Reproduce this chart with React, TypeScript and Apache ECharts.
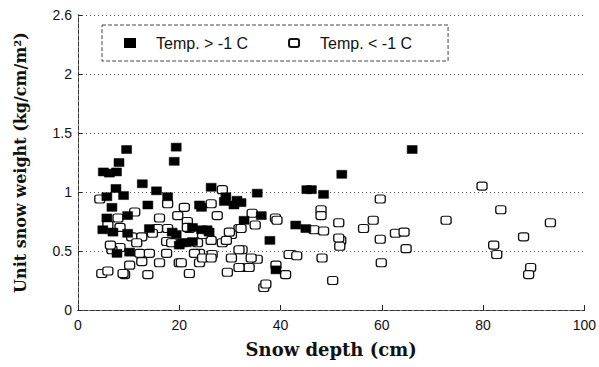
import React, { useEffect, useRef } from "react";
import * as echarts from "echarts";

const warmName = "Temp. > -1 C";
const coldName = "Temp. < -1 C";
const xTicks = [0, 20, 40, 60, 80, 100];
const yTickLabels: Record<string, string> = { "0": "0", "0.5": "0.5", "1": "1", "1.5": "1.5", "2": "2", "2.5": "2.6" };

// Temp. > -1 C : [snow depth (cm), unit snow weight]
const warmPoints: number[][] = [
  [9.6, 1.36], [8.1, 1.25], [5.0, 1.17], [6.2, 1.16], [7.6, 1.17], [19.4, 1.38], [19.0, 1.26],
  [12.7, 1.07], [7.5, 1.03], [9.0, 0.97], [15.5, 1.01], [5.7, 0.96], [17.7, 0.96], [26.3, 1.04],
  [29.2, 0.96], [31.4, 0.93], [35.4, 0.99], [45.2, 1.02], [46.1, 1.02], [48.5, 0.98], [52.1, 1.15],
  [66.0, 1.36], [6.7, 0.87], [9.8, 0.8], [13.8, 0.89], [24.4, 0.87], [28.9, 0.92], [32.2, 0.91],
  [5.7, 0.78], [32.8, 0.76], [36.2, 0.8], [4.9, 0.68], [6.9, 0.66], [9.8, 0.65], [14.1, 0.69],
  [19.4, 0.64], [22.6, 0.7], [25.9, 0.66], [20.6, 0.57], [22.6, 0.58], [37.9, 0.59], [43.0, 0.72],
  [45.0, 0.69], [7.7, 0.48], [10.2, 0.49], [39.1, 0.34], [18.6, 0.66], [24.4, 0.68], [25.5, 0.68],
  [21.4, 0.57], [20.0, 0.55], [24.0, 0.89], [30.8, 0.89]
];

// Temp. < -1 C
const coldPoints: number[][] = [
  [4.3, 0.94], [17.7, 0.9], [21.0, 0.87], [19.7, 0.8], [28.5, 1.02], [26.3, 0.9], [27.5, 0.8],
  [11.2, 0.83], [7.9, 0.78], [16.1, 0.78], [15.7, 0.69], [17.7, 0.69], [21.6, 0.75], [22.0, 0.69],
  [34.4, 0.82], [35.0, 0.72], [39.0, 0.78], [31.8, 0.69], [30.3, 0.64], [26.3, 0.59], [28.5, 0.57],
  [23.6, 0.57], [5.9, 0.72], [10.6, 0.62], [12.6, 0.62], [14.7, 0.65], [17.5, 0.58], [8.3, 0.53],
  [6.7, 0.51], [12.2, 0.48], [14.1, 0.48], [17.5, 0.48], [24.0, 0.48], [26.5, 0.47], [32.4, 0.51],
  [30.3, 0.44], [35.4, 0.43], [42.2, 0.47], [12.6, 0.41], [16.1, 0.4], [20.0, 0.4], [10.2, 0.38],
  [4.7, 0.31], [5.9, 0.33], [9.2, 0.3], [13.8, 0.3], [22.0, 0.31], [29.5, 0.32], [32.2, 0.36],
  [33.8, 0.36], [36.7, 0.19], [41.0, 0.3], [24.0, 0.4], [11.6, 0.57], [8.3, 0.7], [24.6, 0.64],
  [79.8, 1.05], [59.7, 0.94], [83.5, 0.85], [58.3, 0.76], [56.4, 0.69], [72.7, 0.76], [93.3, 0.74],
  [62.7, 0.65], [64.4, 0.66], [59.7, 0.6], [88.0, 0.62], [64.8, 0.52], [82.1, 0.55], [82.7, 0.47],
  [59.9, 0.4], [89.4, 0.36], [89.0, 0.3], [51.5, 0.74], [51.9, 0.59], [48.0, 0.85], [48.0, 0.8],
  [39.3, 0.76], [46.6, 0.68], [48.5, 0.67], [51.5, 0.61], [51.7, 0.54], [41.7, 0.47], [43.2, 0.46],
  [48.2, 0.44], [39.1, 0.38], [50.3, 0.25], [37.1, 0.22], [21.6, 0.7], [29.3, 0.59], [31.8, 0.51],
  [34.2, 0.44], [20.4, 0.4], [31.8, 0.36], [23.0, 0.48], [24.6, 0.44], [26.3, 0.44], [18.5, 0.57],
  [29.9, 0.66], [32.2, 0.69], [8.9, 0.31], [6.4, 0.55]
];

export default function App() {
  const ref = useRef<HTMLDivElement>(null);
  useEffect(() => {
    if (!ref.current) return;
    const chart = echarts.init(ref.current, null, { renderer: "svg" });
    const axisFont = { fontFamily: "Liberation Sans", fontSize: 14, color: "#111" };
    const nameFont = { fontFamily: "DejaVu Serif", fontWeight: "bold" as const, color: "#111" };
    chart.setOption({
      animation: false,
      backgroundColor: "#fff",
      grid: { left: 78, right: 12, top: 15, bottom: 57, containLabel: false },
      legend: {
        left: 102,
        top: 25,
        padding: [10, 36, 10, 22],
        itemWidth: 10,
        itemHeight: 8,
        itemGap: 40,
        borderColor: "#444",
        borderWidth: 1,
        borderType: "dashed",
        textStyle: { fontFamily: "Liberation Sans", fontSize: 16, color: "#111", padding: [0, 0, 0, 16] },
        data: [
          { name: warmName, icon: "rect" },
          { name: coldName, icon: "roundRect" }
        ]
      },
      xAxis: [
        {
          type: "value",
          min: 0,
          max: 100,
          interval: 20,
          name: "Snow depth (cm)",
          nameLocation: "middle",
          nameGap: 30,
          nameTextStyle: { ...nameFont, fontSize: 18 },
          axisLine: { show: true, onZero: false, lineStyle: { color: "#222", type: "dashed", width: 1 } },
          axisTick: { show: true, inside: true, length: 5, lineStyle: { color: "#222" } },
          axisLabel: { ...axisFont, margin: 8, formatter: (v: number) => (xTicks.includes(v) ? String(v) : "") },
          splitLine: { show: false }
        },
        {
          type: "value",
          position: "top",
          min: 0,
          max: 100,
          axisLine: { show: true, lineStyle: { color: "#333", type: "dashed", width: 1 } },
          axisTick: { show: false },
          axisLabel: { show: false },
          splitLine: { show: false }
        }
      ],
      yAxis: [
        {
          type: "value",
          min: 0,
          max: 2.5,
          interval: 0.5,
          name: "Unit snow weight (kg/cm/m²)",
          nameLocation: "middle",
          nameGap: 50,
          nameTextStyle: { ...nameFont, fontSize: 16 },
          axisLine: { show: true, lineStyle: { color: "#222", type: "dashed", width: 1 } },
          axisTick: { show: true, inside: true, length: 4, lineStyle: { color: "#222" } },
          axisLabel: { ...axisFont, margin: 6, formatter: (v: number) => yTickLabels[String(v)] ?? "" },
          splitLine: { show: true, lineStyle: { color: "#555", type: [1, 3], width: 1 } }
        },
        {
          type: "value",
          position: "right",
          min: 0,
          max: 2.5,
          axisLine: { show: true, lineStyle: { color: "#333", type: "dashed", width: 1 } },
          axisTick: { show: false },
          axisLabel: { show: false },
          splitLine: { show: false }
        }
      ],
      series: [
        {
          name: coldName,
          type: "scatter",
          data: coldPoints,
          symbol: "roundRect",
          symbolSize: [10, 8],
          itemStyle: { color: "#fff", borderColor: "#111", borderWidth: 1.2, opacity: 1 },
          z: 2
        },
        {
          name: warmName,
          type: "scatter",
          data: warmPoints,
          symbol: "rect",
          symbolSize: [10, 8],
          itemStyle: { color: "#000", borderColor: "#000", borderWidth: 0.5, opacity: 1 },
          z: 3
        }
      ]
    });
    return () => chart.dispose();
  }, []);
  return <div ref={ref} style={{ width: 599, height: 367, position: "absolute", left: 0, top: 0 }} />;
}
